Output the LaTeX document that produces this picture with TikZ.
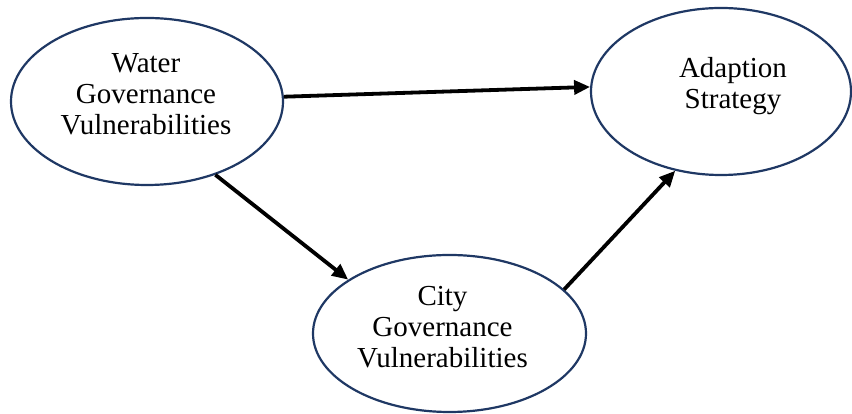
\documentclass[tikz,border=0pt]{standalone}
\usepackage{fontspec}
\setmainfont{Liberation Serif}
\usetikzlibrary{shapes.geometric,arrows.meta}
\definecolor{ringblue}{RGB}{31,56,100}
\tikzset{
  ring/.style={ellipse, draw=ringblue, line width=2.2pt, inner sep=0pt, fill=white},
  lbl/.style={align=center, inner sep=0pt, font=\fontsize{29}{30.8}\selectfont},
  flow/.style={line width=3.8pt, -{Triangle[length=16pt,width=14pt]}}
}
\begin{document}
\begin{tikzpicture}[x=1pt,y=1pt]
  \useasboundingbox (0,0) rectangle (852,414);
  % the three factors
  \node[ring, minimum width=272pt, minimum height=167pt] (w) at (147,312.5) {};
  \node[ring, minimum width=260pt, minimum height=167pt] (a) at (721,322.5) {};
  \node[ring, minimum width=273pt, minimum height=157pt] (c) at (449.5,80.5) {};
  % their labels
  \node[lbl] (wt) at ([shift={(-1,7.5)}]w.center) {Water\\Governance\\Vulnerabilities};
  \node[lbl] (at) at ([shift={(12,5.5)}]a.center) {Adaption\\Strategy};
  \node[lbl] (ct) at ([shift={(-7,6.5)}]c.center) {City\\Governance\\Vulnerabilities};
  % influences
  \draw[flow] (w.2) -- (a.178);
  \draw[flow] (w.-47.6) -- (c.152.3);
  \draw[flow] (c.21.8) -- (a.240.6);
\end{tikzpicture}
\end{document}
